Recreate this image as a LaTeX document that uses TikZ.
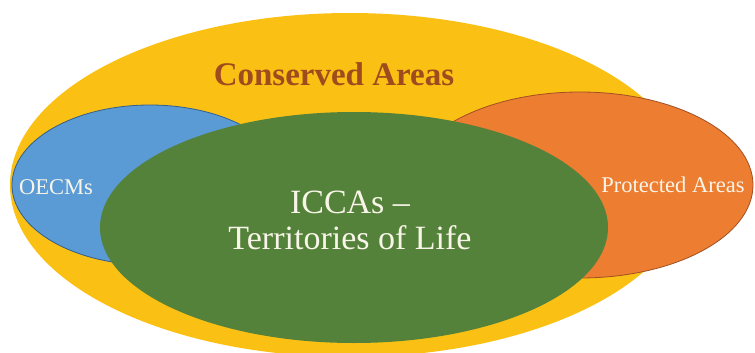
\documentclass[tikz,border=0pt]{standalone}
\usepackage{fontspec}
\setmainfont{Liberation Serif}
\usepackage{tikz}

\definecolor{areagold}{RGB}{251,192,20}
\definecolor{oecmblue}{RGB}{91,155,213}
\definecolor{oecmline}{RGB}{50,95,140}
\definecolor{paorange}{RGB}{237,125,49}
\definecolor{paline}{RGB}{160,80,35}
\definecolor{iccagreen}{RGB}{84,130,58}
\definecolor{titlebrown}{RGB}{158,75,30}
\definecolor{labelwhite}{RGB}{248,245,232}

\begin{document}
\begin{tikzpicture}[x=1pt,y=-1pt]
			\tikzstyle{every node}+=[inner sep=0pt]
			\tikzstyle{small label}=[text=labelwhite,font=\fontsize{22.5}{26}\selectfont]
			\useasboundingbox (0,0) rectangle (755,353);
			\fill [areagold] (350,185) ellipse (340pt and 172pt);
			\draw (334,74.5) node (conserved) {\fontsize{33}{36}\selectfont\bfseries\color{titlebrown}Conserved Areas};
			\draw [oecmline, fill=oecmblue, line width=0.8pt] (150,185) ellipse (138pt and 80pt);
			\draw (56,187.5) node [small label] (oecms) {OECMs};
			\draw [paline, fill=paorange, line width=0.8pt] (580,185) ellipse (173pt and 93pt);
			\draw (673,185) node [small label] (protected) {Protected Areas};
			\fill [iccagreen] (354,227.5) ellipse (254pt and 115.5pt);
			\draw (350,220.5) node [text=labelwhite, align=center, font=\fontsize{34}{36}\selectfont] (iccas) {ICCAs --\\Territories of Life};
\end{tikzpicture}
\end{document}
